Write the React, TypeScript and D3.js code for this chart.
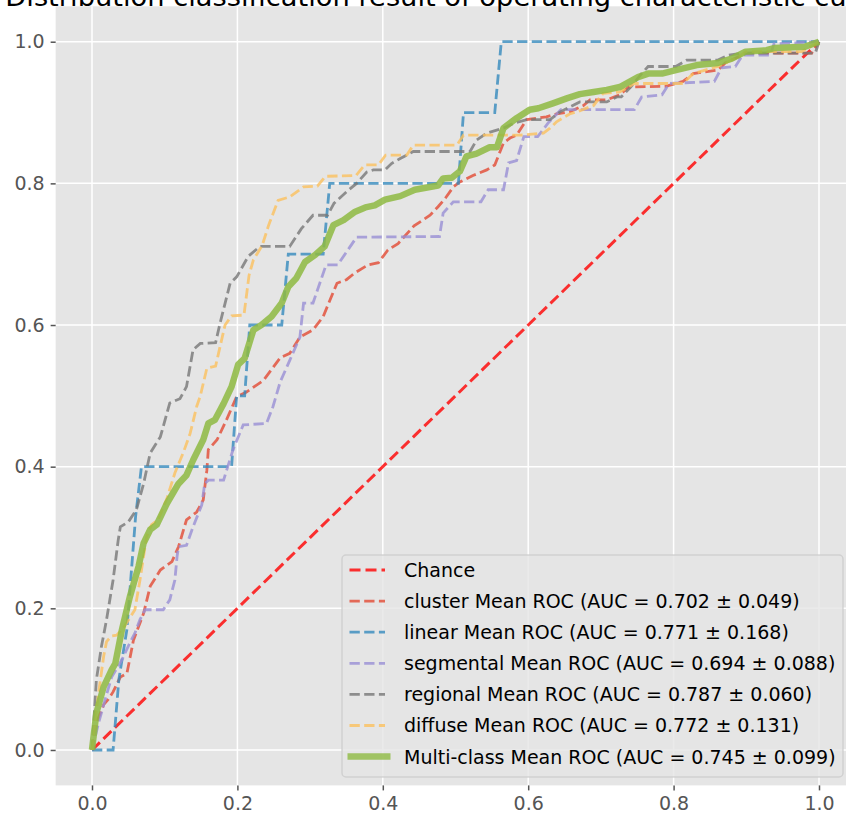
import * as d3 from "d3";
import { useEffect, useRef } from "react";

type Pt = [number, number];

// mean ROC curves as [fpr, tpr]
const cluster: Pt[] = [
  [0, 0], [0.006, 0.038], [0.016, 0.064], [0.022, 0.071], [0.029, 0.082], [0.039, 0.103], [0.048, 0.108],
  [0.057, 0.155], [0.071, 0.193], [0.08, 0.231], [0.094, 0.254], [0.11, 0.266], [0.119, 0.287], [0.13, 0.325],
  [0.144, 0.336], [0.153, 0.353], [0.158, 0.395], [0.16, 0.424], [0.172, 0.438], [0.185, 0.466], [0.199, 0.499],
  [0.212, 0.505], [0.236, 0.522], [0.259, 0.554], [0.272, 0.56], [0.286, 0.583], [0.304, 0.593], [0.318, 0.612],
  [0.337, 0.659], [0.35, 0.664], [0.362, 0.674], [0.38, 0.685], [0.394, 0.688], [0.407, 0.706], [0.421, 0.715],
  [0.443, 0.74], [0.465, 0.755], [0.476, 0.767], [0.486, 0.779], [0.497, 0.795], [0.506, 0.802], [0.524, 0.811],
  [0.543, 0.819], [0.554, 0.826], [0.566, 0.857], [0.575, 0.864], [0.584, 0.868], [0.598, 0.89], [0.625, 0.894],
  [0.639, 0.898], [0.657, 0.901], [0.676, 0.91], [0.685, 0.918], [0.708, 0.918], [0.726, 0.925], [0.738, 0.936],
  [0.789, 0.937], [0.813, 0.944], [0.827, 0.955], [0.861, 0.96], [0.871, 0.97], [0.89, 0.979], [0.899, 0.984],
  [0.99, 0.984], [1, 1],
];
const linear: Pt[] = [
  [0, 0], [0.029, 0], [0.037, 0.1], [0.048, 0.17], [0.06, 0.33], [0.068, 0.4], [0.192, 0.4], [0.199, 0.5],
  [0.21, 0.5], [0.217, 0.6], [0.261, 0.6], [0.27, 0.7], [0.318, 0.7], [0.327, 0.8], [0.504, 0.8], [0.511, 0.9],
  [0.554, 0.9], [0.563, 1.0], [1, 1],
];
const segmental: Pt[] = [
  [0, 0], [0.009, 0.038], [0.018, 0.071], [0.027, 0.103], [0.041, 0.127], [0.052, 0.151], [0.059, 0.165],
  [0.066, 0.184], [0.073, 0.198], [0.098, 0.198], [0.107, 0.212], [0.114, 0.24], [0.117, 0.273], [0.119, 0.287],
  [0.13, 0.289], [0.139, 0.315], [0.151, 0.346], [0.155, 0.376], [0.16, 0.381], [0.181, 0.381], [0.194, 0.424],
  [0.208, 0.459], [0.24, 0.461], [0.249, 0.485], [0.259, 0.52], [0.272, 0.55], [0.286, 0.583], [0.291, 0.631],
  [0.304, 0.631], [0.322, 0.685], [0.338, 0.685], [0.364, 0.724], [0.478, 0.725], [0.483, 0.758], [0.497, 0.774],
  [0.535, 0.774], [0.545, 0.791], [0.566, 0.791], [0.573, 0.829], [0.584, 0.832], [0.594, 0.866], [0.613, 0.866],
  [0.628, 0.886], [0.645, 0.904], [0.746, 0.904], [0.756, 0.922], [0.784, 0.925], [0.794, 0.941], [0.856, 0.944],
  [0.866, 0.963], [0.885, 0.965], [0.895, 0.981], [0.933, 0.981], [0.938, 0.997], [1, 1],
];
const regional: Pt[] = [
  [0, 0], [0.002, 0.033], [0.006, 0.099], [0.013, 0.146], [0.02, 0.184], [0.029, 0.24], [0.036, 0.296],
  [0.039, 0.315], [0.05, 0.322], [0.061, 0.339], [0.071, 0.376], [0.08, 0.419], [0.094, 0.442], [0.107, 0.49],
  [0.121, 0.496], [0.13, 0.513], [0.139, 0.565], [0.149, 0.574], [0.17, 0.575], [0.176, 0.602], [0.19, 0.659],
  [0.199, 0.668], [0.215, 0.697], [0.231, 0.711], [0.272, 0.711], [0.288, 0.736], [0.304, 0.755], [0.324, 0.755],
  [0.333, 0.772], [0.35, 0.788], [0.364, 0.8], [0.378, 0.816], [0.387, 0.819], [0.403, 0.819], [0.412, 0.828],
  [0.424, 0.835], [0.442, 0.845], [0.52, 0.845], [0.529, 0.861], [0.543, 0.871], [0.566, 0.878], [0.58, 0.885],
  [0.598, 0.89], [0.63, 0.89], [0.644, 0.901], [0.671, 0.915], [0.708, 0.915], [0.722, 0.922], [0.728, 0.922],
  [0.741, 0.936], [0.756, 0.955], [0.765, 0.965], [0.803, 0.965], [0.818, 0.974], [0.861, 0.974], [0.875, 0.981],
  [0.895, 0.984], [0.995, 0.984], [1, 1],
];
const diffuse: Pt[] = [
  [0, 0], [0.004, 0.038], [0.009, 0.08], [0.016, 0.132], [0.02, 0.153], [0.027, 0.161], [0.034, 0.162],
  [0.045, 0.175], [0.059, 0.198], [0.066, 0.24], [0.075, 0.301], [0.082, 0.318], [0.091, 0.325], [0.103, 0.355],
  [0.114, 0.391], [0.126, 0.421], [0.135, 0.447], [0.144, 0.485], [0.149, 0.5], [0.158, 0.539], [0.17, 0.542],
  [0.183, 0.6], [0.192, 0.613], [0.209, 0.614], [0.216, 0.67], [0.222, 0.692], [0.234, 0.712], [0.243, 0.741],
  [0.256, 0.776], [0.272, 0.781], [0.291, 0.795], [0.31, 0.796], [0.321, 0.81], [0.363, 0.811], [0.375, 0.826],
  [0.394, 0.826], [0.404, 0.84], [0.433, 0.84], [0.442, 0.854], [0.502, 0.854], [0.511, 0.868], [0.589, 0.868],
  [0.621, 0.871], [0.63, 0.878], [0.639, 0.887], [0.657, 0.898], [0.667, 0.901], [0.69, 0.91], [0.703, 0.927],
  [0.726, 0.929], [0.746, 0.941], [0.813, 0.941], [0.827, 0.955], [0.861, 0.965], [0.89, 0.979], [0.899, 0.986],
  [0.976, 0.986], [1, 1],
];
const multiClass: Pt[] = [
  [0, 0], [0.006, 0.052], [0.016, 0.089], [0.027, 0.113], [0.032, 0.122], [0.041, 0.169], [0.052, 0.216],
  [0.064, 0.259], [0.071, 0.292], [0.08, 0.311], [0.089, 0.318], [0.103, 0.348], [0.119, 0.376], [0.13, 0.388],
  [0.139, 0.409], [0.153, 0.438], [0.16, 0.461], [0.169, 0.466], [0.181, 0.489], [0.192, 0.513], [0.201, 0.544],
  [0.21, 0.553], [0.222, 0.593], [0.233, 0.6], [0.247, 0.612], [0.261, 0.631], [0.27, 0.654], [0.281, 0.666],
  [0.293, 0.689], [0.307, 0.699], [0.32, 0.711], [0.332, 0.741], [0.346, 0.748], [0.362, 0.76], [0.376, 0.766],
  [0.389, 0.769], [0.403, 0.777], [0.424, 0.782], [0.444, 0.791], [0.476, 0.797], [0.483, 0.807], [0.495, 0.808],
  [0.506, 0.817], [0.515, 0.838], [0.529, 0.842], [0.547, 0.851], [0.557, 0.851], [0.566, 0.878], [0.584, 0.892],
  [0.602, 0.904], [0.614, 0.906], [0.634, 0.913], [0.653, 0.92], [0.671, 0.926], [0.69, 0.929], [0.708, 0.932],
  [0.726, 0.936], [0.751, 0.95], [0.765, 0.955], [0.784, 0.955], [0.803, 0.96], [0.832, 0.967], [0.861, 0.97],
  [0.88, 0.976], [0.899, 0.986], [0.928, 0.988], [0.938, 0.991], [0.981, 0.993], [1, 1],
];
const chance: Pt[] = [[0, 0], [1, 1]];

const classNames = ["cluster", "linear", "segmental", "regional", "diffuse"];
const classCurves = [cluster, linear, segmental, regional, diffuse];
const classColors = ["#E24A33", "#348ABD", "#988ED5", "#777777", "#FBC15E"];
const aucMeans = ["0.702", "0.771", "0.694", "0.787", "0.772"];
const aucStds = ["0.049", "0.168", "0.088", "0.060", "0.131"];
const multiAuc = ["0.745", "0.099"];

const ticks = [0, 0.2, 0.4, 0.6, 0.8, 1.0];
const title = "Distribution classification result of operating characteristic curve";

const W = 846;
const H = 814;
const FONT = "DejaVu Sans, Verdana, sans-serif";

const App = () => {
  const ref = useRef<SVGSVGElement>(null);

  useEffect(() => {
    const svg = d3.select(ref.current);
    svg.selectAll("*").remove();

    const x = d3.scaleLinear().domain([-0.05, 1.05]).range([55.65, 855.35]);
    const y = d3.scaleLinear().domain([-0.05, 1.05]).range([785.4, 6.3]);

    // axes background
    svg.append("rect")
      .attr("x", x(-0.05)).attr("y", y(1.05))
      .attr("width", x(1.05) - x(-0.05)).attr("height", y(-0.05) - y(1.05))
      .attr("fill", "#E5E5E5");

    // grid
    const grid = svg.append("g").attr("stroke", "#ffffff").attr("stroke-width", 1.5);
    ticks.forEach((t) => {
      grid.append("line").attr("x1", x(t)).attr("x2", x(t)).attr("y1", y(-0.05)).attr("y2", y(1.05));
      grid.append("line").attr("y1", y(t)).attr("y2", y(t)).attr("x1", x(-0.05)).attr("x2", x(1.05));
    });

    // axes
    const xAxis = d3.axisBottom(x).tickValues(ticks).tickFormat(d3.format(".1f")).tickSize(5).tickPadding(6);
    const yAxis = d3.axisLeft(y).tickValues(ticks).tickFormat(d3.format(".1f")).tickSize(5).tickPadding(6);
    const gx = svg.append("g").attr("transform", `translate(0, ${y(-0.05)})`).call(xAxis);
    const gy = svg.append("g").attr("transform", `translate(${x(-0.05)}, 0)`).call(yAxis);
    [gx, gy].forEach((g) => {
      g.select(".domain").remove();
      g.selectAll("line").attr("stroke", "#555555").attr("stroke-width", 1.5);
      g.selectAll("text").attr("fill", "#555555").style("font-family", FONT).style("font-size", "19px");
    });

    const line = d3.line<Pt>().x((d) => x(d[0])).y((d) => y(d[1]));

    const plot = svg.append("g");
    plot.append("path").datum(chance).attr("d", line)
      .attr("fill", "none").attr("stroke", "#FF0000").attr("stroke-opacity", 0.8)
      .attr("stroke-width", 3).attr("stroke-dasharray", "11,5");

    classCurves.forEach((c, i) => {
      plot.append("path").datum(c).attr("d", line)
        .attr("fill", "none").attr("stroke", classColors[i]).attr("stroke-opacity", 0.8)
        .attr("stroke-width", 2.8).attr("stroke-dasharray", "10.3,4.4");
    });

    plot.append("path").datum(multiClass).attr("d", line)
      .attr("fill", "none").attr("stroke", "#8EBA42").attr("stroke-opacity", 0.85)
      .attr("stroke-width", 6.5).attr("stroke-linejoin", "round");

    // title (cut by the top edge, as in the source image)
    svg.append("text")
      .attr("x", 448).attr("y", 6)
      .attr("text-anchor", "middle")
      .style("font-family", FONT).style("font-size", "27.3px")
      .attr("fill", "#000000")
      .text(title);

    // legend
    const lg = svg.append("g");
    lg.append("rect")
      .attr("x", 342).attr("y", 555).attr("width", 501).attr("height", 222).attr("rx", 4)
      .attr("fill", "#E5E5E5").attr("fill-opacity", 0.8)
      .attr("stroke", "#CCCCCC").attr("stroke-opacity", 0.8).attr("stroke-width", 1.5);

    const entries = [
      { label: "Chance", color: "#FF0000", dash: "11,5", w: 3, solid: false },
      ...classNames.map((n, i) => ({
        label: `${n} Mean ROC (AUC = ${aucMeans[i]} \u00b1 ${aucStds[i]})`,
        color: classColors[i], dash: "10.3,4.4", w: 2.8, solid: false,
      })),
      { label: `Multi-class Mean ROC (AUC = ${multiAuc[0]} \u00b1 ${multiAuc[1]})`, color: "#8EBA42", dash: "", w: 6.5, solid: true },
    ];
    entries.forEach((e, i) => {
      const cy = 570 + i * 31.1;
      lg.append("line")
        .attr("x1", e.solid ? 347.5 : 349.5).attr("x2", e.solid ? 390.5 : 385)
        .attr("y1", cy).attr("y2", cy)
        .attr("stroke", e.color).attr("stroke-opacity", 0.8).attr("stroke-width", e.w)
        .attr("stroke-dasharray", e.dash || null);
      lg.append("text")
        .attr("x", 404).attr("y", cy + 6.9)
        .style("font-family", FONT).style("font-size", "19px")
        .attr("fill", "#000000")
        .text(e.label);
    });
  }, []);

  return (
    <div style={{ position: "absolute", left: 0, top: 0 }}>
      <svg ref={ref} width={W} height={H} style={{ display: "block", background: "#ffffff" }} />
    </div>
  );
};

export default App;
